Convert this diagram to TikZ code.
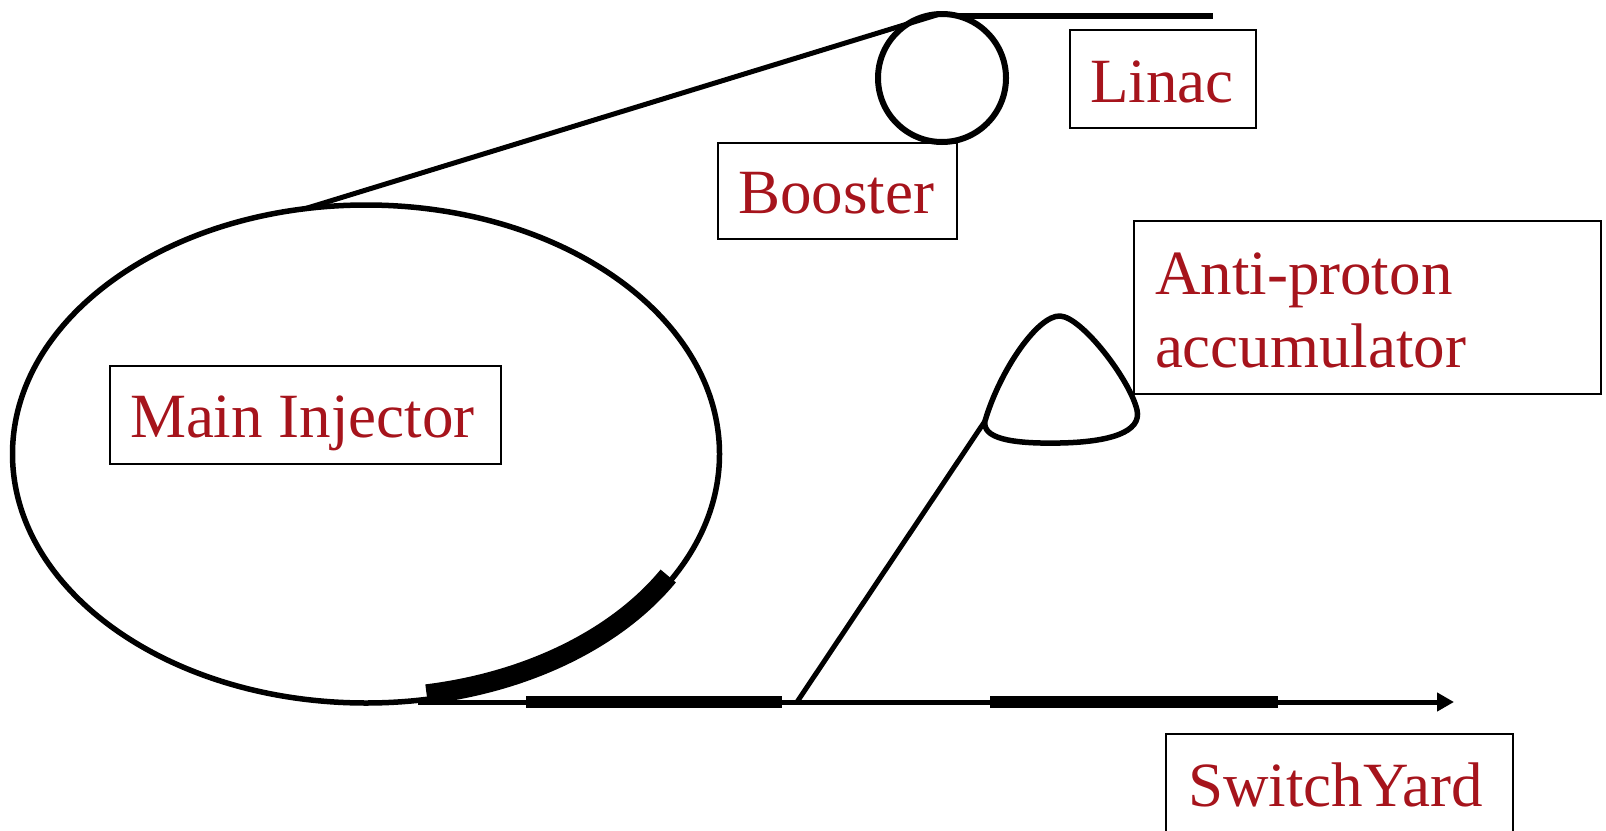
\documentclass[tikz,border=0pt]{standalone}
\usepackage{fontspec}
\setmainfont{Liberation Serif}
\usetikzlibrary{shapes.geometric,arrows.meta}
\definecolor{labelred}{RGB}{166,20,28}
\begin{document}
\begin{tikzpicture}[x=1pt,y=-1pt,
  ring/.style={draw, line width=5.5pt, inner sep=0pt, outer sep=0pt},
  beam/.style={line width=5pt},
  heavy/.style={line width=12pt, line cap=butt},
  tbox/.style={draw, line width=2pt, inner sep=0pt, outer sep=0pt, anchor=north west},
  lbl/.style={text=labelred, font=\fontsize{63pt}{73pt}\selectfont, anchor=base west, inner sep=0pt, outer sep=0pt}]
\useasboundingbox (0,0) rectangle (1606,830);

% rings
\node[ring, ellipse, minimum width=707pt, minimum height=498pt] (mi) at (366,454) {};
\node[ring, circle, line width=6pt, minimum size=128pt] (booster) at (942,78) {};

% beam-line end points
\coordinate (linacend) at (1213,14);
\coordinate (inj) at (418,702);
\coordinate (junc) at (797,702);
\coordinate (swend) at (1454,702);
\coordinate (acc) at (985,421);

% linac and booster-to-injector transfer line
\draw[line width=6pt] (booster.76) -- (booster.76 -| linacend);
\draw[beam] (mi.104) -- (booster.92);

% extraction arc on the injector
\draw[line width=20pt, line cap=butt] plot[domain=30:80, samples=50, smooth]
  ({366+349*cos(\x)},{454+244*sin(\x)});

% line to the switchyard
\draw[beam, -{Triangle[length=17pt, width=18pt]}] (inj) -- (swend);
\draw[heavy] (526,702) -- (782,702);
\draw[heavy] (990,702) -- (1278,702);

% anti-proton accumulator and its transfer line
\draw[beam] (junc) -- (acc);
\draw[line width=5.5pt, line join=round]
  (acc) .. controls (1000,370) and (1038,315) .. (1060,316)
        .. controls (1082,317) and (1130,380) .. (1137,410)
        .. controls (1142,432) and (1110,442) .. (1060,443)
        .. controls (1010,444) and (982,438) .. (acc) -- cycle;

% labels
\node[tbox, minimum width=186pt, minimum height=98pt] (linacbox) at (1070,30) {};
\node[lbl] (linac) at (1090,102) {Linac};

\node[tbox, minimum width=239pt, minimum height=96pt] (boosterbox) at (718,143) {};
\node[lbl] (boosterlbl) at (738,213) {Booster};

\node[tbox, minimum width=391pt, minimum height=98pt] (mibox) at (110,366) {};
\node[lbl] (milbl) at (130,437) {Main Injector};

\node[tbox, minimum width=467pt, minimum height=173pt] (apbox) at (1134,221) {};
\node[lbl] (aplbl1) at (1155,294) {Anti-proton};
\node[lbl] (aplbl2) at (1155,367) {accumulator};

\node[tbox, minimum width=347pt, minimum height=120pt] (swbox) at (1166,734) {};
\node[lbl] (swlbl) at (1188,806) {SwitchYard};
\end{tikzpicture}
\end{document}
